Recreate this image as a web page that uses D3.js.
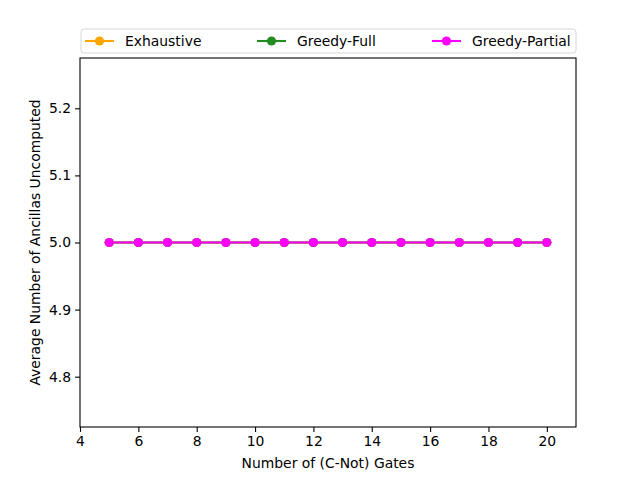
<!DOCTYPE html>
<html>
<head>
<meta charset="utf-8">
<script src="https://cdn.jsdelivr.net/npm/d3@7"></script>
<style>
  body { margin: 0; background: #fff; }
  text { font-family: "DejaVu Sans", sans-serif; }
</style>
</head>
<body>
<div class="chart"></div>
<script>
// gate counts and the three strategies (all identical here)
const gates = [5, 6, 7, 8, 9, 10, 11, 12, 13, 14, 15, 16, 17, 18, 19, 20];
const exhaustive = [5, 5, 5, 5, 5, 5, 5, 5, 5, 5, 5, 5, 5, 5, 5, 5];
const greedyFull = [5, 5, 5, 5, 5, 5, 5, 5, 5, 5, 5, 5, 5, 5, 5, 5];
const greedyPartial = [5, 5, 5, 5, 5, 5, 5, 5, 5, 5, 5, 5, 5, 5, 5, 5];
const seriesNames = ['Exhaustive', 'Greedy-Full', 'Greedy-Partial'];
const seriesColors = ['#ffa500', '#228b22', '#ff00ff'];
const xTicks = [4, 6, 8, 10, 12, 14, 16, 18, 20];
const yTicks = [4.8, 4.9, 5.0, 5.1, 5.2];

const W = 640, H = 480;
const m = { left: 80, right: 64, top: 58, bottom: 53 };
const fs = 13.9;

const svg = d3.select('.chart').append('svg')
    .attr('width', W)
    .attr('height', H);

const x = d3.scaleLinear([4, 21], [m.left, W - m.right]);
const y = d3.scaleLinear([4.725, 5.275], [H - m.bottom, m.top]);

const all = [exhaustive, greedyFull, greedyPartial];

// axes
const xAxis = svg.append('g')
    .attr('transform', `translate(0,${H - m.bottom})`)
    .call(d3.axisBottom(x).tickValues(xTicks).tickSize(4.9).tickPadding(4).tickFormat(d3.format('d')));
const yAxis = svg.append('g')
    .attr('transform', `translate(${m.left},0)`)
    .call(d3.axisLeft(y).tickValues(yTicks).tickSize(4.9).tickPadding(4).tickFormat(d3.format('.1f')));
[xAxis, yAxis].forEach(a => {
    a.selectAll('text').attr('font-size', fs).attr('fill', '#000').style('font-family', '"DejaVu Sans", sans-serif');
    a.selectAll('line').attr('stroke', '#000').attr('stroke-width', 1.1);
    a.select('.domain').remove();
});

svg.append('rect')
    .attr('x', m.left).attr('y', m.top)
    .attr('width', W - m.left - m.right)
    .attr('height', H - m.top - m.bottom)
    .attr('fill', 'none')
    .attr('stroke', '#000')
    .attr('stroke-width', 1.1);

// lines + markers
const line = d3.line().x((d, i) => x(gates[i])).y(d => y(d));
all.forEach((vals, k) => {
    const g = svg.append('g');
    g.append('path')
        .attr('d', line(vals))
        .attr('fill', 'none')
        .attr('stroke', seriesColors[k])
        .attr('stroke-width', 2.1);
    g.selectAll('circle')
        .data(vals)
        .join('circle')
            .attr('cx', (d, i) => x(gates[i]))
            .attr('cy', d => y(d))
            .attr('r', 4.6)
            .attr('fill', seriesColors[k]);
});

// labels
svg.append('text')
    .attr('x', (m.left + W - m.right) / 2)
    .attr('y', 468)
    .attr('text-anchor', 'middle')
    .attr('font-size', fs)
    .text('Number of (C-Not) Gates');
svg.append('text')
    .attr('transform', `translate(40,${(m.top + H - m.bottom) / 2}) rotate(-90)`)
    .attr('text-anchor', 'middle')
    .attr('font-size', fs)
    .text('Average Number of Ancillas Uncomputed');

// legend
const leg = svg.append('g');
leg.append('rect')
    .attr('x', 81).attr('y', 29)
    .attr('width', 495).attr('height', 24)
    .attr('rx', 3)
    .attr('fill', '#fff')
    .attr('stroke', '#d6d6d6')
    .attr('stroke-width', 1);
const legX = [85, 257, 432];
seriesNames.forEach((name, k) => {
    const gx = legX[k];
    leg.append('line')
        .attr('x1', gx).attr('x2', gx + 29)
        .attr('y1', 41).attr('y2', 41)
        .attr('stroke', seriesColors[k])
        .attr('stroke-width', 2.1);
    leg.append('circle')
        .attr('cx', gx + 14.5).attr('cy', 41).attr('r', 4.6)
        .attr('fill', seriesColors[k]);
    leg.append('text')
        .attr('x', gx + 40).attr('y', 46)
        .attr('font-size', fs)
        .text(name);
});
</script>
</body>
</html>
